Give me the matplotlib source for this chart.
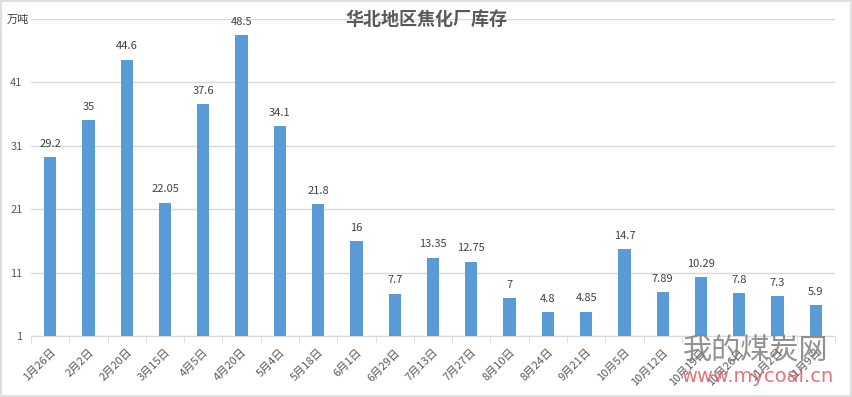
import matplotlib
matplotlib.use("Agg")
import matplotlib.pyplot as plt
from matplotlib.patches import Rectangle

plt.rcParams['font.family'] = ['Noto Sans CJK SC', 'DejaVu Sans']

categories = ["1月26日", "2月2日", "2月20日", "3月15日", "4月5日", "4月20日", "5月4日",
              "5月18日", "6月1日", "6月29日", "7月13日", "7月27日", "8月10日", "8月24日",
              "9月21日", "10月5日", "10月12日", "10月19日", "10月26日", "11月2日", "11月9日"]
values = [29.2, 35, 44.6, 22.05, 37.6, 48.5, 34.1, 21.8, 16, 7.7, 13.35, 12.75, 7,
          4.8, 4.85, 14.7, 7.89, 10.29, 7.8, 7.3, 5.9]
value_labels = ["29.2", "35", "44.6", "22.05", "37.6", "48.5", "34.1", "21.8", "16", "7.7",
                "13.35", "12.75", "7", "4.8", "4.85", "14.7", "7.89", "10.29", "7.8", "7.3", "5.9"]
yticks = [1, 11, 21, 31, 41, 51]
title = "华北地区焦化厂库存"
unit = "万吨"

W, H = 853, 397
fig = plt.figure(figsize=(W / 100, H / 100), dpi=100)
fig.patches.append(Rectangle((0.001, 0.002), 0.997, 0.995, transform=fig.transFigure,
                             fill=False, edgecolor='#d9d9d9', linewidth=1.2))

ax = fig.add_axes([31 / W, 1 - 336 / H, (835 - 31) / W, (336 - 19) / H])
x = list(range(len(categories)))
base = yticks[0]
ax.bar(x, [v - base for v in values], bottom=base, width=0.32, color='#5b9bd5', zorder=3)
for xi, v, lab in zip(x, values, value_labels):
    ax.annotate(lab, (xi, v), xytext=(0, 6), textcoords='offset points', ha='center',
                va='bottom', fontsize=8, color='#404040')

ax.set_xlim(-0.5, len(categories) - 0.5)
ax.set_ylim(yticks[0], yticks[-1])
ax.set_yticks(yticks)
ax.set_yticklabels([str(t) for t in yticks[:-1]] + [""], fontsize=8, color='#595959')
ax.grid(axis='y', color='#d9d9d9', linewidth=1, zorder=0)
ax.tick_params(axis='y', length=0, pad=6)
fig.text(7 / W, 1 - 20 / H, unit, ha='left', va='center', fontsize=8, color='#404040')

ax.set_xticks(x)
ax.set_xticklabels(categories, rotation=45, ha='right', rotation_mode='anchor',
                   fontsize=8, color='#595959')
ax.set_xticks([i - 0.5 for i in range(len(categories) + 1)], minor=True)
ax.tick_params(axis='x', which='major', length=0, pad=8)
ax.tick_params(axis='x', which='minor', length=5, color='#d9d9d9', direction='out')
for s in ['top', 'right', 'left']:
    ax.spines[s].set_visible(False)
ax.spines['bottom'].set_color('#d9d9d9')

fig.text(427 / W, 1 - 19 / H, title, ha='center', va='center', fontsize=13,
         fontweight='bold', color='#595959')

# watermark
fig.text(756 / W, 1 - 352 / H, "我的煤炭网", ha='center', va='center', fontsize=21,
         color='#7f7f7f', alpha=0.85)
fig.text(757 / W, 1 - 377 / H, "www.mycoal.cn", ha='center', va='center', fontsize=14,
         color='#e05c65', alpha=0.85, family='DejaVu Sans')

fig.savefig("out.png", dpi=100)
